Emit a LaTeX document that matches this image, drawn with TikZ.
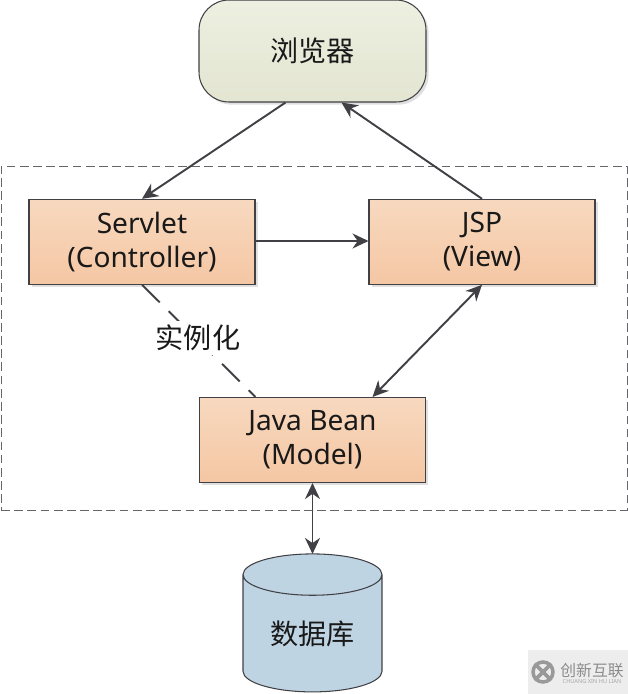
\documentclass[tikz,border=0pt]{standalone}
\usepackage{fontspec}
\setmainfont{Noto Sans}
\newfontfamily\cjk{Noto Sans CJK SC}
\usetikzlibrary{arrows.meta}
\usetikzlibrary{positioning}
\usetikzlibrary{shadows}
\usetikzlibrary{shapes.geometric}
\definecolor{mline}{rgb}{0.25, 0.25, 0.27}
\definecolor{mtext}{rgb}{0.1, 0.1, 0.1}
\definecolor{mpeachtop}{rgb}{0.97, 0.85, 0.75}
\definecolor{mpeachbot}{rgb}{0.96, 0.78, 0.64}
\definecolor{molivetop}{rgb}{0.93, 0.94, 0.88}
\definecolor{mlivebot}{rgb}{0.89, 0.90, 0.82}
\definecolor{mblue}{rgb}{0.75, 0.83, 0.89}
\tikzset{softshadow/.style = {drop shadow={shadow xshift=1.5pt, shadow yshift=-1.5pt, fill=black!20, opacity=0.6}}}
\tikzset{box/.style = {draw=mline, line width=0.6pt, rectangle, align=center, text=mtext,
                       minimum width=4.52cm, minimum height=1.7cm, inner sep=0,
                       top color=mpeachtop, bottom color=mpeachbot,
                       font=\fontsize{16}{19.3}\selectfont, softshadow}}
\tikzset{conn/.style = {draw=mline, line width=1.1pt, >={Stealth[length=0.32cm,width=0.3cm]}}}
\tikzset{label/.style = {text=mtext, font=\cjk\fontsize{16}{18}\selectfont}}
\begin{document}
\begin{tikzpicture}[x=0.02cm, y=-0.02cm]
      \useasboundingbox (0, 0) rectangle (628, 694);

      \node [draw=mline!80, line width=0.5pt, dash pattern=on 5pt off 2.5pt, minimum width=12.52cm, minimum height=6.88cm, inner sep=0] (frame) at (314, 338) {};

      \node [draw=mline, line width=0.6pt, rectangle, rounded corners=0.6cm, minimum width=4.54cm, minimum height=2.04cm, inner sep=0,
             top color=molivetop, bottom color=mlivebot, softshadow, label] (browser) at (312.5, 51) {浏览器};

      \node [box] (servlet) at (142, 241.8) {Servlet\\(Controller)};
      \node [box] (jsp) at (482, 241.8) {JSP\\(View)};
      \node [box] (bean) at (312.5, 440) {Java Bean\\(Model)};

      \node [cylinder, shape border rotate=90, aspect=0.49, draw=mline, line width=0.6pt,
             minimum width=2.78cm, minimum height=2.76cm, inner sep=0, outer sep=0,
             fill=mblue, label] (db) at (312.5, 633.5) {数据库};

      % connectors
      \draw [conn, ->] ([xshift=-0.54cm]browser.south) -- (servlet.north);
      \draw [conn, ->] (jsp.north) -- ([xshift=0.58cm]browser.south);
      \draw [conn, ->] ([yshift=0.016cm]servlet.east) -- ([yshift=0.016cm]jsp.west);
      \draw [conn, <->] (jsp.south) -- ([xshift=1.2cm]bean.north);
      \draw [conn, <->] (bean.south) -- (bean.south |- db.north);
      \draw [conn, dash pattern=on 0.5cm off 0.25cm] (servlet.south) -- ([xshift=-1.14cm]bean.north);

      \node [fill=white, inner sep=2pt, label] (inst) at (198, 338) {实例化};

      % watermark
      \node [fill=black!7, minimum width=2cm, minimum height=0.88cm, inner sep=0] (mark) at (578, 672) {};
      \node [draw=black!40, line width=2pt, circle, minimum size=0.4cm, inner sep=0] (logo) at (543, 672) {};
      \draw [black!40, line width=2.2pt] (logo.north west) -- (logo.south east);
      \draw [black!40, line width=2.2pt] (logo.north east) -- (logo.south west);
      \node [text=black!45, font=\cjk\fontsize{9}{10}\selectfont, inner sep=0] (markcn) at (592, 671) {创新互联};
      \node [text=black!35, font=\fontsize{3.2}{4}\selectfont, inner sep=0] (markpy) at (592, 681) {CHUANG XIN HU LIAN};
\end{tikzpicture}
\end{document}
